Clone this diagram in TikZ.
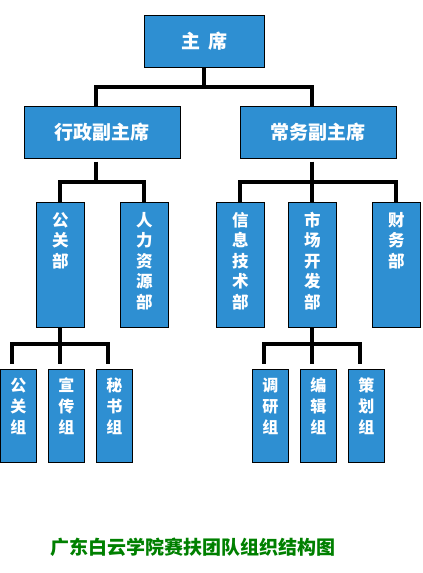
\documentclass[tikz,border=0pt]{standalone}
\usepackage{fontspec}
\usepackage{tikz}
\newfontfamily\cjk{Noto Sans CJK SC}
\definecolor{boxblue}{RGB}{46,143,210}
\definecolor{capgreen}{RGB}{0,128,0}
\tikzset{
  box/.style={draw=black, line width=0.8pt, fill=boxblue, text=white, inner sep=0pt, align=center, anchor=north west},
  head/.style={box, minimum width=120pt, minimum height=52pt, font=\cjk\bfseries\fontsize{19}{22}\selectfont},
  dept/.style={box, text width=48pt, text height=24pt, text depth=101pt, font=\cjk\bfseries\fontsize{16.5}{20.5}\selectfont},
  grp/.style={box, text width=36pt, text height=22pt, text depth=71pt, font=\cjk\bfseries\fontsize{16}{21}\selectfont},
  conn/.style={line width=4pt, line join=miter}
}
\begin{document}
\begin{tikzpicture}[x=1pt,y=-1pt]
  \useasboundingbox (0,0) rectangle (423,573);
  \node[head] (zx) at (144,15) {主\ \ 席};
  \node[head,minimum width=156pt] (xz) at (24,106) {行政副主席};
  \node[head,minimum width=156pt] (cw) at (240,106) {常务副主席};
  \node[dept] (gg) at (36,202) {公\\关\\部};
  \node[dept] (rl) at (120,202) {人\\力\\资\\源\\部};
  \node[dept] (xx) at (216,202) {信\\息\\技\\术\\部};
  \node[dept] (sc) at (288,202) {市\\场\\开\\发\\部};
  \node[dept] (cwb) at (372,202) {财\\务\\部};
  \node[grp] (gz) at (0,369) {公\\关\\组};
  \node[grp] (xc) at (48,369) {宣\\传\\组};
  \node[grp] (ms) at (96,369) {秘\\书\\组};
  \node[grp] (dy) at (252,369) {调\\研\\组};
  \node[grp] (bj) at (300,369) {编\\辑\\组};
  \node[grp] (ch) at (348,369) {策\\划\\组};
  \node[font=\cjk\bfseries\fontsize{19}{23}\selectfont, text=capgreen] (cap) at (193,547) {广东白云学院赛扶团队组织结构图};
  \foreach \n in {xz,cw}
    \draw[conn] (zx.south) -- ++(0,19) -| ([xshift=-6pt]\n.north);
  \foreach \n in {gg,rl}
    \draw[conn,shorten <=3pt] ([xshift=-6pt]xz.south) -- ++(0,23) -| (\n.north);
  \foreach \n in {xx,sc,cwb}
    \draw[conn,shorten <=3pt] ([xshift=-6pt]cw.south) -- ++(0,23) -| (\n.north);
  \foreach \n in {gz,xc,ms}
    \draw[conn,shorten >=5pt] (gg.south) -- ++(0,16) -| ([xshift=-6pt]\n.north);
  \foreach \n in {dy,bj,ch}
    \draw[conn,shorten >=5pt] (sc.south) -- ++(0,16) -| ([xshift=-6pt]\n.north);
\end{tikzpicture}
\end{document}
